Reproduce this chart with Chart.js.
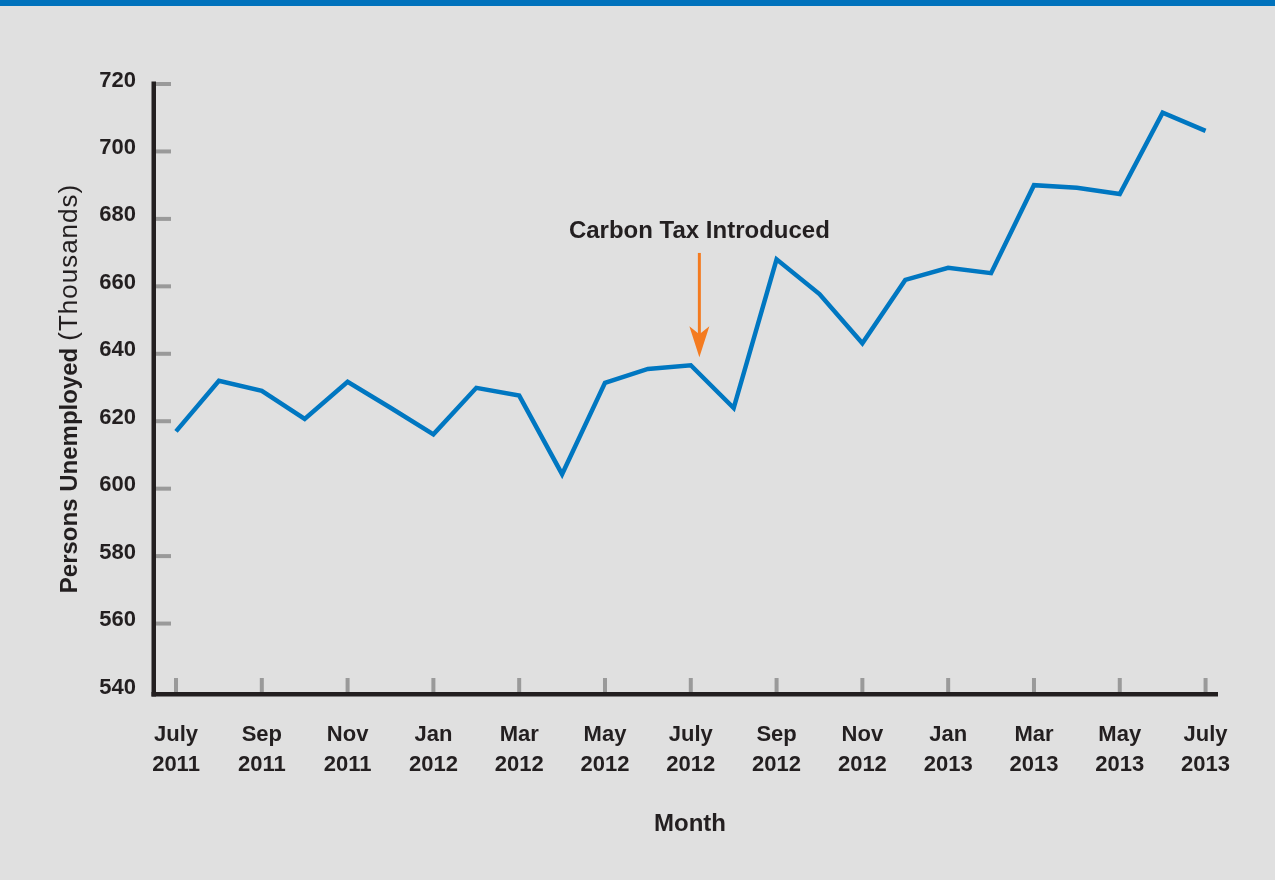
<!DOCTYPE html>
<html><head><meta charset="utf-8">
<script src="https://cdn.jsdelivr.net/npm/chart.js@4/dist/chart.umd.min.js"></script>
<style>
html,body{margin:0;padding:0;background:#e0e0e0;}
canvas{display:block;}
</style></head><body>
<canvas id="c" width="1275" height="880"></canvas>
<script>
// ---- data ----
const months = ["Jul 2011","Aug 2011","Sep 2011","Oct 2011","Nov 2011","Dec 2011",
  "Jan 2012","Feb 2012","Mar 2012","Apr 2012","May 2012","Jun 2012","Jul 2012",
  "Aug 2012","Sep 2012","Oct 2012","Nov 2012","Dec 2012","Jan 2013","Feb 2013",
  "Mar 2013","Apr 2013","May 2013","Jun 2013","Jul 2013"];
const unemployed = [617.0, 632.0, 629.0, 620.7, 631.7, 624.0, 616.1, 629.9, 627.6, 604.3,
  631.4, 635.5, 636.6, 623.9, 668.0, 657.7, 643.1, 661.9, 665.5, 663.9, 690.0, 689.2,
  687.4, 711.5, 706.1];
const xTickIndex = [0,2,4,6,8,10,12,14,16,18,20,22,24];
const xTickLabels = [["July","2011"],["Sep","2011"],["Nov","2011"],["Jan","2012"],["Mar","2012"],
  ["May","2012"],["July","2012"],["Sep","2012"],["Nov","2012"],["Jan","2013"],["Mar","2013"],
  ["May","2013"],["July","2013"]];
const yTickValues = [540,560,580,600,620,640,660,680,700,720];
const yTitleBold = "Persons Unemployed";
const yTitleNormal = "(Thousands)";
const xTitle = "Month";
const annotationText = "Carbon Tax Introduced";
const annotationMonth = 12.2;
const annotationTextValue = 676.4;
const arrowFromValue = 669.9;
const arrowToValue = 639.0;

// ---- styles ----
const FONT = "'Liberation Sans', Arial, Helvetica, sans-serif";
const DARK = "#231f20";
const BLUE = "#0077c1";
const GRAY = "#9a9a9a";
const ORANGE = "#f47b20";

const decor = {
  id: "decor",
  beforeDraw(chart) {
    const ctx = chart.ctx;
    ctx.save();
    ctx.fillStyle = "#e0e0e0";
    ctx.fillRect(0, 0, chart.width, chart.height);
    ctx.fillStyle = "#0072bc";
    ctx.fillRect(0, 0, chart.width, 6);
    ctx.restore();
  },
  afterDraw(chart) {
    const ctx = chart.ctx;
    const ca = chart.chartArea;
    const xs = chart.scales.x, ys = chart.scales.y;
    ctx.save();
    // tick stubs
    ctx.fillStyle = GRAY;
    yTickValues.forEach(v => {
      const py = ys.getPixelForValue(v);
      if (v !== ys.min) ctx.fillRect(ca.left + 1, py - 2, 16, 4);
    });
    xTickIndex.forEach(i => {
      const px = xs.getPixelForValue(i);
      ctx.fillRect(px - 2, ca.bottom - 13, 4, 14);
    });
    // axis lines
    ctx.fillStyle = DARK;
    ctx.fillRect(ca.left - 2.5, ca.top - 2.5, 4.5, ca.bottom - ca.top + 8);
    ctx.fillRect(ca.left - 2.5, ca.bottom + 1, ca.right - ca.left + 2.5, 4.5);
    // y title
    ctx.save();
    ctx.translate(70, 388.5);
    ctx.rotate(-Math.PI / 2);
    ctx.textBaseline = "middle";
    ctx.fillStyle = DARK;
    const fb = "bold 24px " + FONT, fn = "26px " + FONT;
    const gap = 7;
    ctx.font = fb; ctx.letterSpacing = "0px";
    const wb = ctx.measureText(yTitleBold).width;
    ctx.font = fn; ctx.letterSpacing = "1px";
    const wn = ctx.measureText(yTitleNormal).width;
    const start = -(wb + gap + wn) / 2;
    ctx.textAlign = "left";
    ctx.font = fb; ctx.letterSpacing = "0px";
    ctx.fillText(yTitleBold, start, 0);
    ctx.font = fn; ctx.letterSpacing = "1px";
    ctx.fillText(yTitleNormal, start + wb + gap, 0);
    ctx.restore();
    ctx.letterSpacing = "0px";
    // x title
    ctx.font = "bold 24px " + FONT;
    ctx.textAlign = "center";
    ctx.textBaseline = "middle";
    ctx.fillStyle = DARK;
    ctx.fillText(xTitle, (ca.left + ca.right) / 2 + 4, 824);
    // annotation
    const ax = xs.getPixelForValue(annotationMonth);
    ctx.fillText(annotationText, ax, ys.getPixelForValue(annotationTextValue));
    const y0 = ys.getPixelForValue(arrowFromValue);
    const y1 = ys.getPixelForValue(arrowToValue);
    ctx.strokeStyle = ORANGE;
    ctx.lineWidth = 3;
    ctx.beginPath();
    ctx.moveTo(ax, y0);
    ctx.lineTo(ax, y1 - 20);
    ctx.stroke();
    ctx.fillStyle = ORANGE;
    ctx.beginPath();
    ctx.moveTo(ax, y1);
    ctx.lineTo(ax - 10, y1 - 31);
    ctx.lineTo(ax, y1 - 23);
    ctx.lineTo(ax + 10, y1 - 31);
    ctx.closePath();
    ctx.fill();
    ctx.restore();
  }
};

new Chart(document.getElementById("c"), {
  type: "line",
  data: {
    labels: months,
    datasets: [{
      label: "Persons Unemployed",
      data: unemployed.map((v, i) => ({ x: i, y: v })),
      borderColor: BLUE,
      borderWidth: 4.5,
      pointRadius: 0,
      tension: 0,
      fill: false,
      borderJoinStyle: "miter",
      borderCapStyle: "butt"
    }]
  },
  options: {
    responsive: false,
    animation: false,
    devicePixelRatio: 1,
    layout: { padding: { top: 84, right: 57, left: 0, bottom: 0 } },
    plugins: { legend: { display: false }, tooltip: { enabled: false } },
    scales: {
      x: {
        type: "linear",
        min: -0.513,
        max: 24.29,
        afterBuildTicks: s => { s.ticks = xTickIndex.map(v => ({ value: v })); },
        afterFit: s => { s.height = 189; },
        grid: { display: false, drawTicks: false },
        border: { display: false },
        ticks: {
          autoSkip: false,
          maxRotation: 0,
          minRotation: 0,
          padding: 29,
          color: DARK,
          font: { family: FONT, size: 22, weight: "bold", lineHeight: 1.3636 },
          callback: v => xTickLabels[xTickIndex.indexOf(v)]
        }
      },
      y: {
        type: "linear",
        min: 540,
        max: 720,
        afterBuildTicks: s => { s.ticks = yTickValues.map(v => ({ value: v })); },
        afterFit: s => { s.width = 154; },
        grid: { display: false, drawTicks: false },
        border: { display: false },
        ticks: {
          padding: 18,
          labelOffset: -3.5,
          color: DARK,
          font: { family: FONT, size: 22, weight: "bold" }
        }
      }
    }
  },
  plugins: [decor]
});
</script>
</body></html>
